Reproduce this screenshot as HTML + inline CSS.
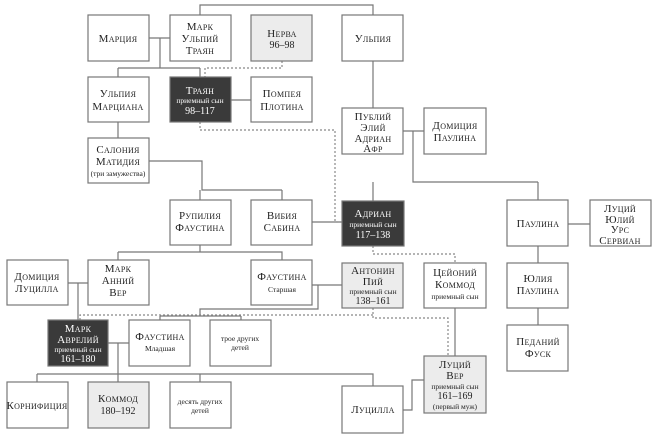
<!DOCTYPE html>
<html><head><meta charset="utf-8"><style>
html,body{margin:0;padding:0;background:#fff}
svg{display:block}
text{font-family:"Liberation Serif","DejaVu Serif",serif;text-anchor:middle;fill:#222}
.n{font-size:11px;font-variant:small-caps;letter-spacing:0.3px}
.s{font-size:7.5px}
.d{font-size:10px}
.w{fill:#fff}
</style></head><body>
<svg width="660" height="440" viewBox="0 0 660 440" xmlns="http://www.w3.org/2000/svg">
<g stroke="#777" stroke-width="1.2" fill="none">
<path d="M200 15V5H373V15"/>
<path d="M149 38H170M160 38V68M118 68H200M118 68V77M200 68V77"/>
<path d="M231 100H251"/>
<path d="M118 122V138M373 61V108"/>
<path d="M403 131H424M413 131V182H538M373 182V201M538 182V200"/>
<path d="M568 224H590M538 246V263M538 308V325"/>
<path d="M149 161H202V190H282M200 190V200M282 190V200"/>
<path d="M312 222H342"/>
<path d="M200 245V252H282V260M118 252H282M118 252V260"/>
<path d="M68 283H88M78 283V320"/>
<path d="M312 285H342M318 285V309H200V316M160 316H241M160 316V320M241 316V320"/>
<path d="M455 308V356"/>
<path d="M108 343H129M118 343V382M37 374H373V386M37 374V382M200 374V382"/>
<path d="M403 410H412V380H424"/>
</g>
<g stroke="#888" stroke-width="1.2" fill="none" stroke-dasharray="2,2">
<path d="M282 61V68H205V77"/>
<path d="M200 122V130H335V222H342"/>
<path d="M373 246V254H455V263"/>
<path d="M373 308V318H448V356"/>
<path d="M373 315H80V320"/>
</g>
<g stroke="#777" stroke-width="1.2">
<rect x="88" y="15" width="61" height="46" fill="#fff"/>
<rect x="170" y="15" width="61" height="46" fill="#fff"/>
<rect x="251" y="15" width="61" height="46" fill="#ececec"/>
<rect x="342" y="15" width="61" height="46" fill="#fff"/>
<rect x="88" y="77" width="61" height="45" fill="#fff"/>
<rect x="170" y="77" width="61" height="45" fill="#3a3a3a"/>
<rect x="251" y="77" width="61" height="45" fill="#fff"/>
<rect x="342" y="108" width="61" height="46" fill="#fff"/>
<rect x="424" y="108" width="62" height="46" fill="#fff"/>
<rect x="88" y="138" width="61" height="45" fill="#fff"/>
<rect x="170" y="200" width="61" height="45" fill="#fff"/>
<rect x="251" y="200" width="61" height="45" fill="#fff"/>
<rect x="342" y="201" width="62" height="45" fill="#3a3a3a"/>
<rect x="507" y="200" width="61" height="46" fill="#fff"/>
<rect x="590" y="200" width="61" height="46" fill="#fff"/>
<rect x="7" y="260" width="61" height="45" fill="#fff"/>
<rect x="88" y="260" width="61" height="45" fill="#fff"/>
<rect x="251" y="260" width="61" height="45" fill="#fff"/>
<rect x="342" y="263" width="61" height="45" fill="#ececec"/>
<rect x="424" y="263" width="62" height="45" fill="#fff"/>
<rect x="507" y="263" width="61" height="45" fill="#fff"/>
<rect x="48" y="320" width="60" height="46" fill="#3a3a3a"/>
<rect x="129" y="320" width="61" height="46" fill="#fff"/>
<rect x="210" y="320" width="61" height="46" fill="#fff"/>
<rect x="507" y="325" width="61" height="46" fill="#fff"/>
<rect x="7" y="382" width="61" height="46" fill="#fff"/>
<rect x="88" y="382" width="61" height="46" fill="#ececec"/>
<rect x="170" y="382" width="61" height="46" fill="#fff"/>
<rect x="424" y="356" width="62" height="57" fill="#ececec"/>
<rect x="342" y="386" width="61" height="47" fill="#fff"/>
</g>
<text class="n" x="118" y="42">Марция</text>
<text class="n" x="200" y="30">Марк</text><text class="n" x="200" y="42">Ульпий</text><text class="n" x="200" y="54">Траян</text>
<text class="n" x="282" y="37">Нерва</text><text class="d" x="282" y="48">96–98</text>
<text class="n" x="373" y="42">Ульпия</text>
<text class="n" x="118" y="97">Ульпия</text><text class="n" x="118" y="110">Марциана</text>
<text class="n w" x="200" y="94">Траян</text><text class="s w" x="200" y="103">приемный сын</text><text class="d w" x="200" y="114">98–117</text>
<text class="n" x="282" y="97">Помпея</text><text class="n" x="282" y="110">Плотина</text>
<text class="n" x="373" y="120">Публий</text><text class="n" x="373" y="131">Элий</text><text class="n" x="373" y="142">Адриан</text><text class="n" x="373" y="152">Афр</text>
<text class="n" x="455" y="129">Домиция</text><text class="n" x="455" y="141">Паулина</text>
<text class="n" x="118" y="153">Салония</text><text class="n" x="118" y="165">Матидия</text><text class="s" x="118" y="176">(три замужества)</text>
<text class="n" x="200" y="219">Рупилия</text><text class="n" x="200" y="231">Фаустина</text>
<text class="n" x="282" y="219">Вибия</text><text class="n" x="282" y="231">Сабина</text>
<text class="n w" x="373" y="217">Адриан</text><text class="s w" x="373" y="227">приемный сын</text><text class="d w" x="373" y="238">117–138</text>
<text class="n" x="538" y="227">Паулина</text>
<text class="n" x="620" y="212">Луций</text><text class="n" x="620" y="223">Юлий</text><text class="n" x="620" y="233">Урс</text><text class="n" x="620" y="244">Сервиан</text>
<text class="n" x="37" y="280">Домиция</text><text class="n" x="37" y="292">Луцилла</text>
<text class="n" x="118" y="272">Марк</text><text class="n" x="118" y="284">Анний</text><text class="n" x="118" y="296">Вер</text>
<text class="n" x="282" y="280">Фаустина</text><text class="s" x="282" y="292">Старшая</text>
<text class="n" x="373" y="274">Антонин</text><text class="n" x="373" y="285">Пий</text><text class="s" x="373" y="294">приемный сын</text><text class="d" x="373" y="304">138–161</text>
<text class="n" x="455" y="276">Цейоний</text><text class="n" x="455" y="288">Коммод</text><text class="s" x="455" y="299">приемный сын</text>
<text class="n" x="538" y="282">Юлия</text><text class="n" x="538" y="294">Паулина</text>
<text class="n w" x="78" y="332">Марк</text><text class="n w" x="78" y="343">Аврелий</text><text class="s w" x="78" y="352">приемный сын</text><text class="d w" x="78" y="362">161–180</text>
<text class="n" x="160" y="340">Фаустина</text><text class="s" x="160" y="351">Младшая</text>
<text class="s" x="240" y="341">трое других</text><text class="s" x="240" y="350">детей</text>
<text class="n" x="538" y="345">Педаний</text><text class="n" x="538" y="357">Фуск</text>
<text class="n" x="37" y="409">Корнифиция</text>
<text class="n" x="118" y="402">Коммод</text><text class="d" x="118" y="414">180–192</text>
<text class="s" x="200" y="404">десять других</text><text class="s" x="200" y="413">детей</text>
<text class="n" x="455" y="368">Луций</text><text class="n" x="455" y="379">Вер</text><text class="s" x="455" y="389">приемный сын</text><text class="d" x="455" y="399">161–169</text><text class="s" x="455" y="409">(первый муж)</text>
<text class="n" x="373" y="413">Луцилла</text>
</svg>
</body></html>
